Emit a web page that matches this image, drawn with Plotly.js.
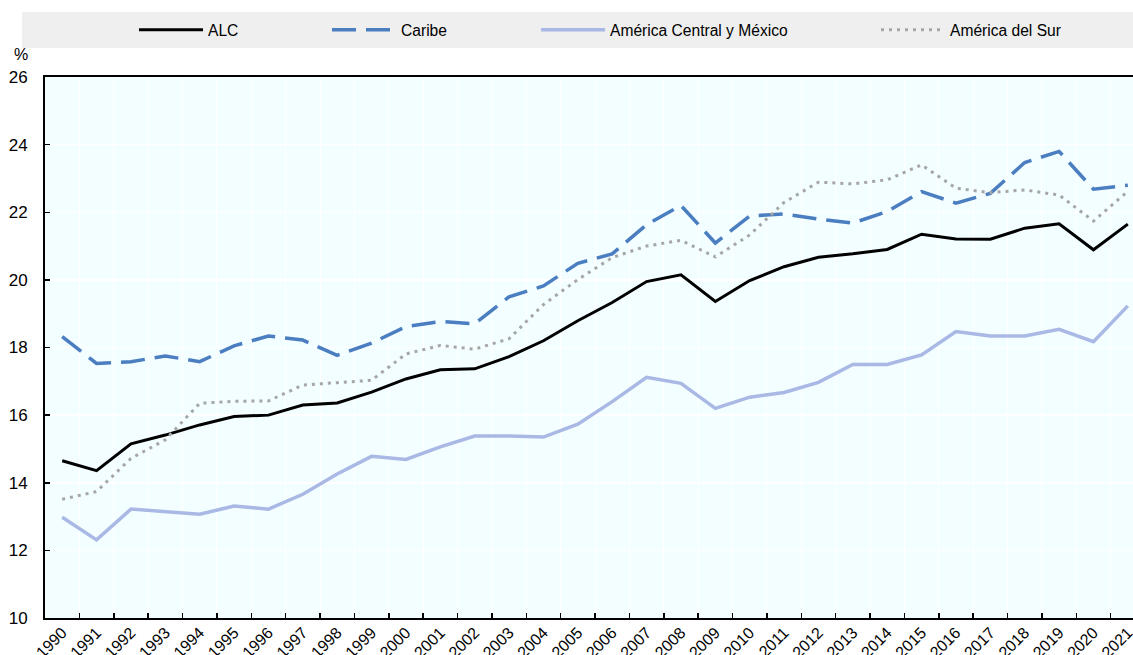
<!DOCTYPE html>
<html>
<head>
<meta charset="utf-8">
<script src="https://cdn.plot.ly/plotly-3.0.1.min.js"></script>
<style>
html,body{margin:0;padding:0;background:#fff;overflow:hidden;}
#chart{width:1133px;height:655px;}
</style>
</head>
<body>
<div id="chart"></div>
<script>
const years = ['1990','1991','1992','1993','1994','1995','1996','1997','1998','1999','2000','2001','2002','2003','2004','2005','2006','2007','2008','2009','2010','2011','2012','2013','2014','2015','2016','2017','2018','2019','2020','2021'];

const alc = [14.65,14.36,15.15,15.41,15.71,15.96,16.0,16.3,16.36,16.68,17.07,17.34,17.37,17.73,18.2,18.79,19.33,19.95,20.15,19.36,19.98,20.39,20.67,20.77,20.9,21.35,21.21,21.2,21.53,21.66,20.89,21.65];
const caribe = [18.32,17.53,17.58,17.75,17.58,18.05,18.34,18.22,17.77,18.13,18.62,18.77,18.7,19.5,19.82,20.49,20.77,21.63,22.2,21.09,21.89,21.95,21.8,21.68,22.02,22.61,22.27,22.56,23.47,23.8,22.68,22.8];
const centralMexico = [12.98,12.31,13.22,13.15,13.07,13.31,13.22,13.66,14.26,14.78,14.69,15.06,15.38,15.38,15.35,15.73,16.4,17.12,16.94,16.2,16.53,16.67,16.97,17.5,17.5,17.78,18.47,18.34,18.34,18.54,18.17,19.23];
const sur = [13.51,13.74,14.72,15.27,16.35,16.41,16.42,16.89,16.96,17.03,17.81,18.06,17.95,18.26,19.27,20.01,20.66,21.0,21.17,20.68,21.33,22.29,22.89,22.84,22.96,23.4,22.71,22.58,22.66,22.51,21.74,22.62];

const names = ['ALC','Caribe','América Central y México','América del Sur'];
const colors = ['#000000','#4A7EC0','#A9B8E4','#A6A6A6'];

const FONT = 'Liberation Sans, Arial, sans-serif';

const traces = [
  {x: years, y: alc, name: names[0], type: 'scatter', mode: 'lines',
   line: {color: colors[0], width: 3}, legend: 'legend'},
  {x: years, y: caribe, name: names[1], type: 'scatter', mode: 'lines',
   line: {color: colors[1], width: 3.5, dash: '24px,10px'}, legend: 'legend2'},
  {x: years, y: centralMexico, name: names[2], type: 'scatter', mode: 'lines',
   line: {color: colors[2], width: 3.5}, legend: 'legend3'},
  {x: years, y: sur, name: names[3], type: 'scatter', mode: 'lines',
   line: {color: colors[3], width: 3, dash: '3px,5px'}, legend: 'legend4'}
];

const plotW = 1088, plotH = 541, L = 45, T = 77;
function px2x(p){ return (p - L) / plotW; }
function py2y(p){ return 1 + (T - p) / plotH; }

function leg(xpx){
  return {x: px2x(xpx), y: py2y(30), xanchor: 'left', yanchor: 'middle',
          orientation: 'h', bgcolor: 'rgba(0,0,0,0)', itemwidth: 64,
          font: {family: FONT, size: 15.6, color: '#000'}};
}

const layout = {
  width: 1133, height: 655,
  margin: {l: L, r: 0, t: T, b: 655 - T - plotH, pad: 0},
  paper_bgcolor: '#ffffff',
  plot_bgcolor: '#F2FEFF',
  font: {family: FONT, size: 15, color: '#000'},
  showlegend: true,
  legend: leg(134),
  legend2: leg(327),
  legend3: leg(536),
  legend4: leg(876),
  xaxis: {
    type: 'category', range: [-0.5, 31.15],
    tickson: 'boundaries', ticks: 'inside', ticklen: 5, tickwidth: 1.5, tickcolor: '#000',
    showline: true, linecolor: '#000', linewidth: 2, mirror: true,
    showgrid: true, gridcolor: '#ffffff', gridwidth: 1,
    tickangle: -45, ticklabelstandoff: -3,
    tickfont: {family: FONT, size: 16, color: '#000'},
    fixedrange: true
  },
  yaxis: {
    range: [10, 26], dtick: 2, tick0: 10,
    ticks: 'inside', ticklen: 5, tickwidth: 1.5, tickcolor: '#000',
    showline: true, linecolor: '#000', linewidth: 2,
    showgrid: true, gridcolor: '#ffffff', gridwidth: 1.5, zeroline: false,
    ticklabelstandoff: 12,
    tickfont: {family: FONT, size: 17, color: '#000'},
    fixedrange: true
  },
  shapes: [{
    type: 'rect', xref: 'paper', yref: 'paper', layer: 'below',
    x0: px2x(22), x1: px2x(1133), y0: py2y(48), y1: py2y(12),
    fillcolor: '#EFEFEF', line: {width: 0}
  }],
  annotations: [{
    text: '%', xref: 'paper', yref: 'paper', x: px2x(21), y: py2y(55),
    xanchor: 'center', yanchor: 'middle', showarrow: false,
    font: {family: FONT, size: 16, color: '#000'}
  }]
};

Plotly.newPlot('chart', traces, layout, {displayModeBar: false, staticPlot: true});
</script>
</body>
</html>
